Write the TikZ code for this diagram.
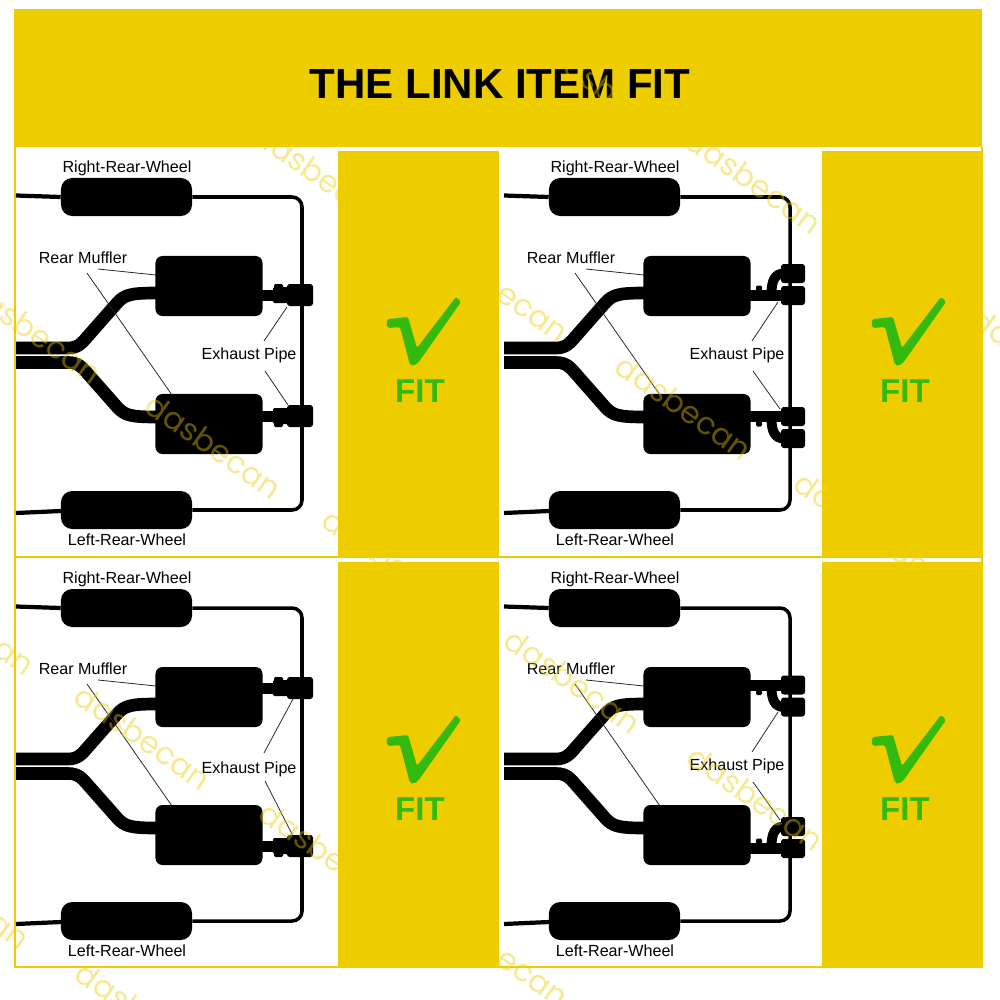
\documentclass[tikz,border=0pt]{standalone}
\usepackage{fontspec}
\setmainfont{Liberation Sans}
\newfontfamily\markfont{Poppins}
\usepackage{xcolor}
\usetikzlibrary{positioning}
\definecolor{myyellow}{RGB}{237,204,0}
\definecolor{mygreen}{RGB}{52,185,14}
\tikzset{
  wheelbox/.style={fill=black, rounded corners=8pt, minimum width=3.275cm, minimum height=0.95cm, inner sep=0},
  mufflerbox/.style={fill=black, rounded corners=5pt, minimum width=2.675cm, minimum height=1.5cm, inner sep=0},
  partlabel/.style={font=\fontsize{11.45}{13}\selectfont, inner sep=0},
  wire/.style={line width=2.5pt},
  pipe/.style={line width=9pt},
  leader/.style={line width=0.55pt, black!85},
  stamp/.style={font=\markfont\fontsize{22}{24}\selectfont, text=myyellow, text opacity=0.42, rotate=-35, inner sep=0},
}
% tail pipe with one tip: #1 height of the pipe, #2 side of the ridge
\newcommand{\singletip}[2]{
  \fill (258,#1-5.5) rectangle (275,#1+5.5);
  \fill[rounded corners=1pt] (273,#1-8) rectangle (290,#1+8);
  \fill[rounded corners=1pt] (274,#1) rectangle (283,#1+#2*11);
  \fill[rounded corners=2pt] (287,#1-11) rectangle (313,#1+11);
}
% tail pipe with two tips: #1 height of the pipe, #2 side of the bend
\newcommand{\doubletip}[2]{
  \fill (258,#1-5.5) rectangle (295,#1+5.5);
  \fill[rounded corners=1pt] (268,#1) rectangle (274,#1+#2*10);
  \draw[line width=7pt] (283.5,#1+#2*2) .. controls (283.5,#1+#2*15) and (287,#1+#2*22) .. (296,#1+#2*22);
  \fill[rounded corners=2pt] (293,#1-9.5) rectangle (317,#1+9.5);
  \fill[rounded corners=2pt] (293,#1+#2*22-9.5) rectangle (317,#1+#2*22+9.5);
}
\begin{document}
\begin{tikzpicture}[x=0.025cm,y=-0.025cm]
\useasboundingbox (0,0) rectangle (1000,1000);
\fill[white] (0,0) rectangle (1000,1000);

% band and frame
\fill[myyellow] (14,9) rectangle (982,147);
\node[font=\bfseries\fontsize{29.9}{32}\selectfont, inner sep=0] (title) at (500,84) {THE LINK ITEM FIT};
\draw[myyellow, line width=1.5pt] (15,147) -- (15,967) -- (982,967) -- (982,147);
\draw[myyellow, line width=1.5pt] (15,557) -- (982,557);
\fill[myyellow] (338,151) rectangle (499,556);
\fill[myyellow] (822,151) rectangle (983,556);
\fill[myyellow] (338,562) rectangle (499,968);
\fill[myyellow] (822,562) rectangle (983,968);

% the four schemes
\foreach \px/\py/\labely/\upa/\upb/\upx/\lowa/\lowb/\lowx in {
  0/0/355.5/341/307/287/371/405/288,
  488/0/355.5/341/302/290/371/409/292,
  0/411/358.5/342/288/293/370/425/293,
  488/411/355.5/341/301/290/371/409/292}{
\begin{scope}[shift={(\px,\py)}]
\node[wheelbox] (rightwheel) at (126.5,197) {};
\node[wheelbox] (leftwheel) at (126.5,510) {};
\node[mufflerbox] (uppermuffler) at (209,286) {};
\node[mufflerbox] (lowermuffler) at (209,424) {};
\coordinate (righttail) at (16,195.5);
\coordinate (lefttail) at (16,513);
\draw[wire, line width=3pt] (righttail) -- (rightwheel.west);
\draw[wire, line width=3pt] (lefttail) -- (61,511);
\draw[wire, rounded corners=7pt] (rightwheel.east) -- (302,197) -- (302,510) -- (leftwheel.east);

\draw[pipe] (16,348) -- (68,348) .. controls (78,348) and (82,343) .. (88,336) -- (118,302) .. controls (125,295) and (130,293) .. (156,293);
\draw[pipe] (16,362.5) -- (68,362.5) .. controls (78,362.5) and (82,367) .. (88,374) -- (118,408) .. controls (125,415) and (130,417) .. (156,417);

\node[partlabel] (rightlabel) at (127,168.5) {Right-Rear-Wheel};
\node[partlabel] (leftlabel) at (127,540) {Left-Rear-Wheel};
\node[partlabel] (mufflerlabel) at (83,258) {Rear Muffler};
\node[partlabel] (pipelabel) at (249,\labely) {Exhaust Pipe};

\coordinate (leadera) at (98,269);
\coordinate (leaderb) at (87,273);
\coordinate (leaderc) at (264,\upa);
\coordinate (leaderd) at (265,\lowa);
\draw[leader] (leadera) -- (156,275);
\draw[leader] (leaderb) -- (172,395);
\draw[leader] (leaderc) -- (\upx,\upb);
\draw[leader] (leaderd) -- (\lowx,\lowb);
\end{scope}
}

\begin{scope}
\singletip{295}{-1}
\singletip{416}{1}
\end{scope}
\begin{scope}[shift={(488,0)}]
\doubletip{295.5}{-1}
\doubletip{416.5}{1}
\end{scope}
\begin{scope}[shift={(0,411)}]
\singletip{277}{-1}
\singletip{435}{1}
\end{scope}
\begin{scope}[shift={(488,411)}]
\doubletip{274}{1}
\doubletip{437.5}{-1}
\end{scope}

% ticks
\foreach \cx/\cy in {0/0,485/0,0/418,485/418}{
\begin{scope}[shift={(\cx,\cy)}]
\fill[mygreen, rounded corners=1.5pt] (386,323) -- (388,319) -- (408,317) -- (417,348) -- (456,297) -- (461,302) -- (418,363) -- (413,366) -- (410,365) -- (400,327) -- (388,328) -- cycle;
\node[font=\bfseries\fontsize{23.5}{26}\selectfont, text=mygreen, inner sep=0] (fitlabel) at (420,391) {FIT};
\end{scope}
}

% stamps over everything
\foreach \sx/\sy in {684/407,754/181,143/737,214/446,34/331,322/176,501/289,573/681,756/798,328/854,-38/896,-33/622,144/1014,501/954,863/524,1040/360,391/561,615/95}{
\node[stamp] at (\sx,\sy) {dasbecan};
}
\end{tikzpicture}
\end{document}
